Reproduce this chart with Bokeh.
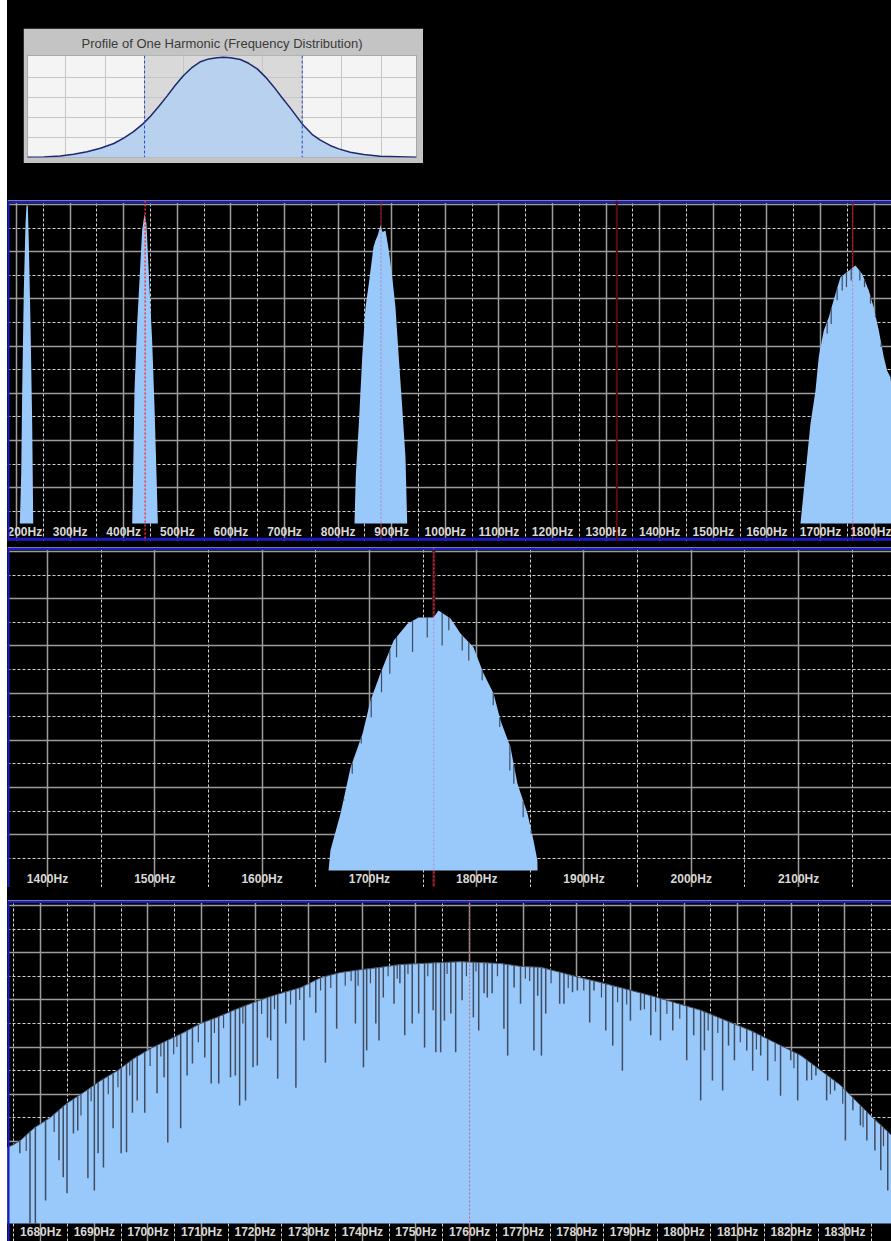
import numpy as np
from bokeh.plotting import figure
from bokeh.layouts import column, row
from bokeh.models import Spacer, Span, BoxAnnotation, FixedTicker, Grid, LinearAxis, Range1d
from bokeh.embed import file_html
from bokeh.resources import INLINE

# ---------------------------------------------------------------- data
HARMONICS = [440, 880, 1320, 1760]

# inset: profile of one harmonic (grid-cell units)
profile_x = [-4.98, -4.56, -4.14, -3.80, -3.46, -3.12, -2.78, -2.53, -2.28, -2.04, -1.85, -1.64,
             -1.43, -1.22, -1.01, -0.79, -0.58, -0.37, -0.16, 0.0, 0.18, 0.43, 0.64, 0.86, 1.07,
             1.28, 1.49, 1.70, 2.00, 2.25, 2.46, 2.72, 2.93, 3.22, 3.56, 3.98, 4.90]
profile_y = [0.01, 0.03, 0.08, 0.16, 0.29, 0.46, 0.70, 0.97, 1.29, 1.68, 2.06, 2.55,
             3.07, 3.61, 4.10, 4.51, 4.79, 4.93, 4.99, 5.01, 4.99, 4.90, 4.71, 4.43, 4.02,
             3.53, 2.99, 2.47, 1.68, 1.16, 0.87, 0.59, 0.43, 0.26, 0.15, 0.06, 0.01]
profile_grid_x = [-4, -3, -2, -1, 0, 1, 2, 3, 4]
profile_grid_y = [1, 2, 3, 4]
profile_band = [-2, 2]

# level grid (dB) shared by the spectrum panels
db_major = [0, -10, -20, -30, -40, -50, -60]
db_minor = [-5, -15, -25, -35, -45, -55, -65]

# panel A : 200 Hz - 1800 Hz
a_ticks = [200, 300, 400, 500, 600, 700, 800, 900, 1000, 1100, 1200, 1300, 1400, 1500, 1600, 1700, 1800]
a_labels = ["200Hz", "300Hz", "400Hz", "500Hz", "600Hz", "700Hz", "800Hz", "900Hz", "1000Hz", "1100Hz",
            "1200Hz", "1300Hz", "1400Hz", "1500Hz", "1600Hz", "1700Hz", "1800Hz"]
a_minor = [250, 350, 450, 550, 650, 750, 850, 950, 1050, 1150, 1250, 1350, 1450, 1550, 1650, 1750, 1850]

a_h0_f = [206.2, 208.8, 210.6, 213.6, 216.8, 218.7, 221.1, 222.9, 226.1, 229.3, 231.2]
a_h0_db = [-67.6, -57.0, -39.4, -18.2, -4.0, -0.2, -0.2, -7.6, -25.2, -46.4, -67.6]
a_h1_f = [415.8, 417.6, 420.1, 425.1, 430.1, 434.4, 438.8, 442.5, 446.9, 453.1, 457.5, 461.2, 463.7]
a_h1_db = [-67.6, -57.1, -39.4, -25.3, -14.7, -5.5, -2.0, -4.1, -14.7, -28.8, -42.9, -57.1, -67.6]
a_h2_f = [830.6, 833.1, 838.7, 845.0, 851.1, 857.3, 863.6, 866.0, 869.8, 874.0, 879.1, 883.0, 888.4,
          894.6, 901.0, 907.1, 913.2, 919.6, 925.7, 928.9]
a_h2_db = [-67.6, -57.1, -46.5, -32.3, -21.8, -16.8, -11.2, -9.0, -7.6, -6.5, -4.4, -5.8, -5.5,
           -9.7, -15.4, -21.8, -32.3, -42.9, -53.5, -67.6]
a_h4_f = [1662.7, 1668.8, 1675.1, 1681.3, 1690.7, 1696.8, 1706.2, 1715.5, 1728.0, 1737.3, 1749.8,
          1765.3, 1777.8, 1790.1, 1799.4, 1808.8, 1818.1, 1824.4, 1830.6, 1845.0, 1857.0]
a_h4_db = [-67.6, -60.6, -53.5, -46.5, -39.4, -32.3, -26.7, -23.9, -18.9, -15.4, -14.3,
           -12.9, -14.7, -18.2, -21.8, -26.7, -32.3, -35.2, -36.6, -50.0, -67.6]
a_dip_f = [1712.5, 1720.0, 1731.1, 1740.5, 1748.5, 1757.3, 1773.4, 1782.1, 1793.3, 1802.6, 1813.2]
a_dip_db = [-27.4, -25.3, -20.3, -18.2, -17.5, -16.1, -16.1, -17.5, -21.0, -23.9, -30.2]

# panel B : 1363 Hz - 2187 Hz
b_ticks = [1400, 1500, 1600, 1700, 1800, 1900, 2000, 2100]
b_labels = ["1400Hz", "1500Hz", "1600Hz", "1700Hz", "1800Hz", "1900Hz", "2000Hz", "2100Hz"]
b_minor = [1450, 1550, 1650, 1750, 1850, 1950, 2050, 2150]
b_h4_f = [1661.9, 1663.7, 1673.1, 1682.4, 1693.6, 1701.0, 1710.3, 1722.5, 1735.5, 1745.8, 1759.7,
          1764.4, 1775.6, 1784.9, 1797.0, 1806.3, 1815.7, 1822.2, 1831.5, 1838.0, 1847.3, 1852.9,
          1856.6, 1856.7]
b_h4_db = [-67.6, -63.3, -55.5, -45.8, -38.6, -31.6, -25.8, -18.9, -15.3, -14.0, -14.0,
           -12.5, -14.2, -17.4, -20.3, -25.8, -30.1, -35.8, -41.5, -49.2, -55.5, -61.2,
           -65.5, -67.6]
b_dip_f = [1676.1, 1684.0, 1692.4, 1701.7, 1711.3, 1719.0, 1725.3, 1740.2, 1753.9, 1767.8, 1774.0,
           1786.5, 1792.6, 1805.1, 1815.4, 1821.5, 1830.9, 1834.6, 1843.3, 1850.8]
b_dip_db = [-52.8, -47.1, -40.7, -35.1, -29.8, -25.9, -22.4, -21.3, -18.2, -19.9, -16.7,
            -21.0, -23.1, -27.3, -32.6, -37.2, -46.4, -49.2, -56.3, -59.8]

# panel C : 1674 Hz - 1839 Hz
c_ticks = [1680, 1690, 1700, 1710, 1720, 1730, 1740, 1750, 1760, 1770, 1780, 1790, 1800, 1810, 1820, 1830]
c_labels = ["1680Hz", "1690Hz", "1700Hz", "1710Hz", "1720Hz", "1730Hz", "1740Hz", "1750Hz", "1760Hz",
            "1770Hz", "1780Hz", "1790Hz", "1800Hz", "1810Hz", "1820Hz", "1830Hz"]
c_minor = [1675, 1685, 1695, 1705, 1715, 1725, 1735, 1745, 1755, 1765, 1775, 1785, 1795, 1805,
           1815, 1825, 1835]
c_h4_f = [1672.5, 1674.7, 1676.2, 1678.7, 1681.8, 1684.9, 1688.0, 1691.2, 1694.3, 1697.4, 1700.5,
          1703.6, 1706.7, 1709.8, 1712.9, 1716.0, 1719.1, 1722.3, 1725.4, 1728.5, 1732.2, 1735.9,
          1739.7, 1743.4, 1747.1, 1750.9, 1754.6, 1758.3, 1762.1, 1765.8, 1769.5, 1773.3, 1777.0,
          1780.7, 1784.4, 1793.8, 1803.1, 1812.4, 1821.8, 1829.2, 1834.8, 1838.7, 1840.4]
c_h4_db = [-51.9, -50.8, -49.8, -47.2, -44.9, -41.9, -39.6, -37.1, -35.0, -32.4, -30.3,
           -28.6, -26.9, -25.0, -23.7, -22.2, -20.8, -19.5, -18.4, -17.4, -15.3, -14.2,
           -13.6, -13.1, -12.5, -12.3, -12.1, -11.9, -12.1, -12.3, -12.9, -13.1, -14.2,
           -15.3, -16.3, -19.1, -22.2, -26.5, -31.8, -38.1, -44.5, -48.7, -49.8]
# deep dips
c_dip_f = [1676.1, 1678.0, 1679.0, 1680.9, 1683.4, 1684.2, 1684.9, 1686.1, 1686.9, 1688.8, 1690.0,
           1690.7, 1691.7, 1693.5, 1695.0, 1696.0, 1697.1, 1698.0, 1699.4, 1701.7, 1703.0, 1703.7,
           1706.1, 1707.3, 1708.3, 1710.6, 1711.8, 1713.2, 1715.4, 1716.3, 1717.1, 1718.2, 1719.6,
           1720.4, 1722.3, 1722.9, 1724.2, 1725.7, 1727.6,
           1729.1, 1731.3, 1733.1, 1735.2, 1738.7, 1740.2, 1740.8, 1742.5, 1743.1, 1743.9, 1745.9,
           1747.0, 1747.9, 1749.3, 1750.5, 1751.6, 1753.2, 1753.7, 1754.6, 1755.3, 1756.5, 1757.4,
           1758.6, 1760.7, 1761.7, 1762.7, 1763.3, 1764.2, 1766.4, 1767.1, 1768.3, 1769.5, 1772.0,
           1772.7, 1773.4, 1774.2, 1776.8, 1777.6, 1779.2, 1780.1, 1782.4, 1783.2,
           1785.4, 1786.7, 1788.5, 1790.0, 1791.9, 1793.8, 1795.6, 1797.9, 1800.5, 1801.8, 1803.1,
           1803.8, 1805.3, 1807.2, 1808.3, 1809.4, 1811.7, 1812.8, 1814.3, 1815.6, 1818.0, 1819.9,
           1821.2, 1822.9, 1824.6, 1826.6, 1828.1, 1830.1, 1831.5, 1832.9, 1834.1, 1835.6, 1836.7,
           1838.0]
c_dip_db = [-52.5, -67.4, -67.4, -62.5, -54.0, -57.6, -61.0, -48.3, -47.7, -57.8, -60.4,
            -52.5, -55.5, -47.2, -52.5, -52.3, -43.9, -41.3, -43.9, -39.8, -36.4, -50.2,
            -47.2, -36.0, -33.5, -32.2, -37.7, -37.7, -36.4, -36.0, -42.4, -41.3, -34.3,
            -33.9, -28.0, -28.6, -36.7, -25.0, -38.6,
            -28.6, -22.7, -33.3, -26.1, -25.0, -34.3, -30.7, -25.0, -28.6, -19.5, -20.8,
            -16.5, -27.5, -25.0, -22.9, -30.1, -22.2, -31.1, -31.1, -24.4, -22.9, -31.1,
            -20.1, -23.7, -26.5, -18.6, -19.5, -18.6, -26.1, -31.8, -17.4, -20.8, -30.7,
            -19.1, -31.8, -22.9, -20.8, -20.8, -18.4, -18.0, -24.8, -18.0,
            -26.5, -29.7, -35.0, -24.4, -22.2, -27.5, -28.6, -26.5, -32.8, -27.5, -41.3,
            -30.7, -37.1, -39.2, -29.7, -32.8, -30.7, -35.0, -31.8, -37.1, -40.3, -32.8,
            -41.3, -37.1, -36.0, -41.3, -39.2, -49.8, -43.4, -46.6, -49.8, -51.9, -56.1,
            -60.4]
# short ragged dips along the envelope
c_jag_f = [1677.3, 1682.5, 1687.5, 1689.4, 1692.6, 1694.4, 1696.6, 1700.4, 1702.4, 1704.8, 1705.4,
           1709.4, 1712.4, 1714.1, 1717.7, 1721.2, 1723.6, 1726.6, 1728.3, 1730.2, 1732.2, 1734.1,
           1736.8, 1737.9, 1739.2, 1741.5, 1744.8, 1746.5, 1748.5, 1752.2, 1755.8, 1759.4, 1761.2,
           1765.2, 1770.4, 1771.2, 1775.2, 1778.4, 1781.3, 1784.6, 1787.6, 1789.3, 1792.6, 1794.7,
           1796.8, 1799.2, 1804.5, 1806.3, 1810.5, 1813.5, 1817.0, 1820.5, 1823.8, 1827.3, 1829.6,
           1833.4, 1837.2]
c_jag_db = [-52.0, -48.0, -44.5, -41.5, -40.0, -38.5, -36.0, -34.0, -32.0, -31.5, -30.0,
            -29.0, -27.0, -26.0, -25.0, -23.0, -22.0, -21.0, -20.0, -19.5, -18.0, -17.5,
            -17.0, -16.0, -17.0, -16.5, -15.0, -15.5, -14.5, -15.0, -14.5, -15.0, -14.0,
            -15.0, -15.5, -16.0, -16.5, -17.5, -18.0, -19.5, -20.5, -21.0, -22.0, -22.5,
            -23.0, -24.0, -26.5, -27.0, -29.0, -30.5, -33.0, -34.5, -37.0, -40.0, -42.0,
            -47.0, -51.0]

# ---------------------------------------------------------------- style
BLUE = "#99c9fb"
DIP = "#3f4c62"
EDGE = "#4a586e"
SOLID = "#9c9c9c"
DASH = "#d2d2d2"
BORDER = "#1c1cc4"
LABEL = "#d8d8d8"
FONT = "Liberation Sans"
W = 884


def panel(height, pad_top, xr, yr, xmaj, xmin, xlab, base):
    p = figure(width=W, height=height, x_range=Range1d(*xr), y_range=Range1d(*yr),
               x_axis_location=None, y_axis_location=None, toolbar_location=None,
               output_backend="svg", min_border_top=pad_top, min_border_bottom=0,
               min_border_left=0, min_border_right=0, background_fill_color="black",
               border_fill_color="black", outline_line_color=None)
    p.grid.visible = False
    p.add_layout(Grid(dimension=0, ticker=FixedTicker(ticks=xmaj, minor_ticks=xmin),
                      grid_line_color=SOLID, grid_line_width=1.5,
                      minor_grid_line_color=DASH, minor_grid_line_dash="3 2",
                      minor_grid_line_width=1))
    p.add_layout(Grid(dimension=1, ticker=FixedTicker(ticks=db_major, minor_ticks=db_minor),
                      grid_line_color=SOLID, grid_line_width=1.5,
                      minor_grid_line_color=DASH, minor_grid_line_dash="3 2",
                      minor_grid_line_width=1))
    ax = LinearAxis(ticker=FixedTicker(ticks=xmaj), fixed_location=base,
                    major_label_overrides={t: l for t, l in zip(xmaj, xlab)},
                    axis_line_color=None, major_tick_line_color=None, minor_tick_line_color=None,
                    major_tick_out=0, major_tick_in=0, minor_tick_out=0, minor_tick_in=0,
                    major_label_standoff=1, major_label_text_color=LABEL,
                    major_label_text_font=FONT, major_label_text_font_style="bold",
                    major_label_text_font_size="12px")
    p.add_layout(ax, "below")
    p.add_layout(Span(location=xr[0], dimension="height", line_color=BORDER, line_width=4))
    p.add_layout(Span(location=yr[1], dimension="width", line_color=BORDER, line_width=5))
    p.add_layout(Span(location=yr[1], dimension="width", line_color="#dfe4ff", line_width=1))
    return p


def peak(p, f, db, base, edge=False):
    p.varea(x=f, y1=base, y2=db, fill_color=BLUE)
    if edge:
        p.line(f, db, line_color=EDGE, line_width=1)


def dips(p, f, db, env_f, env_db, width=1.5):
    top = np.interp(f, env_f, env_db)
    p.segment(x0=f, y0=db, x1=f, y1=top, line_color=DIP, line_width=width)


def marker(p, f, color, width, dash, alpha=1.0, level="overlay"):
    p.add_layout(Span(location=f, dimension="height", line_color=color, line_width=width,
                      line_dash=dash, line_alpha=alpha, level=level))


# ---------------------------------------------------------------- inset
ins = figure(width=400, height=135, x_range=Range1d(-4.97, 4.9), y_range=Range1d(0, 5.1),
             x_axis_location=None, y_axis_location=None, toolbar_location=None,
             output_backend="svg", title="Profile of One Harmonic (Frequency Distribution)",
             background_fill_color="#f4f4f4", border_fill_color="#c4c4c4",
             min_border_left=4, min_border_right=7, min_border_bottom=6, min_border_top=0,
             outline_line_color="#a8a8a8")
ins.title.align = "center"
ins.title.text_font = "Liberation Sans"
ins.title.text_font_size = "13px"
ins.title.text_font_style = "normal"
ins.title.text_color = "#3a3a3a"
ins.grid.visible = False
ins.add_layout(BoxAnnotation(left=profile_band[0], right=profile_band[1], fill_color="#d9d9d9",
                             fill_alpha=1, line_color=None, level="underlay"))
ins.add_layout(Grid(dimension=0, ticker=FixedTicker(ticks=profile_grid_x), grid_line_color="#c6c6c6"))
ins.add_layout(Grid(dimension=1, ticker=FixedTicker(ticks=profile_grid_y), grid_line_color="#c6c6c6"))
ins.varea(x=profile_x, y1=0, y2=profile_y, fill_color="#b7d1ef")
ins.line(profile_x, profile_y, line_color="#1c2870", line_width=1.5)
for b in profile_band:
    ins.add_layout(Span(location=b, dimension="height", line_color="#2a4cc4", line_width=1,
                        line_dash="3 2"))

top = column(Spacer(width=W, height=28), row(Spacer(width=16, height=135), ins),
             Spacer(width=W, height=30), styles={"background-color": "black"})

# ---------------------------------------------------------------- panel A
BASE = -67.6
pa = panel(348, 7, (183.2, 1832.5), (-71.4, 0.85), a_ticks, a_minor, a_labels, BASE)
for f, d in [(a_h0_f, a_h0_db), (a_h1_f, a_h1_db), (a_h2_f, a_h2_db), (a_h4_f, a_h4_db)]:
    peak(pa, f, d, BASE)
dips(pa, a_dip_f, a_dip_db, a_h4_f, a_h4_db, 1.2)
pa.add_layout(Span(location=-70.9, dimension="width", line_color=BORDER, line_width=3))
marker(pa, HARMONICS[0], "#ff3030", 1.5, "2 2")
marker(pa, HARMONICS[1], "#9a2020", 1, "solid", level="underlay")
marker(pa, HARMONICS[1], "#c04060", 1, "2 2", alpha=0.5)
marker(pa, HARMONICS[2], "#5c0a0a", 2, "solid")
marker(pa, HARMONICS[3], "#8a1414", 1.5, "solid", level="underlay")
marker(pa, HARMONICS[3], "#c04060", 1, "2 2", alpha=0.5)

# ---------------------------------------------------------------- panel B
pb = panel(346, 6, (1362.7, 2186.6), (-71.2, 0.85), b_ticks, b_minor, b_labels, BASE)
peak(pb, b_h4_f, b_h4_db, BASE)
dips(pb, b_dip_f, b_dip_db, b_h4_f, b_h4_db, 1.2)
marker(pb, HARMONICS[3], "#5a0c0c", 3, "solid", level="underlay")
marker(pb, HARMONICS[3], "#b070c0", 1, "2 2", alpha=0.7)

# ---------------------------------------------------------------- panel C
BASE_C = -67.4
pc = panel(354, 13, (1673.8, 1838.7), (-71.2, 1.06), c_ticks, c_minor, c_labels, BASE_C)
peak(pc, c_h4_f, c_h4_db, BASE_C, edge=True)
dips(pc, c_dip_f, c_dip_db, c_h4_f, c_h4_db)
dips(pc, c_jag_f, c_jag_db, c_h4_f, c_h4_db, 1.2)
marker(pc, HARMONICS[3], "#d02828", 1, "2 2", alpha=0.6)

content = column(top, pa, pb, pc, styles={"background-color": "black"})
layout = row(Spacer(width=7, height=1241), content)
open("out.html", "w").write(file_html(layout, INLINE))
